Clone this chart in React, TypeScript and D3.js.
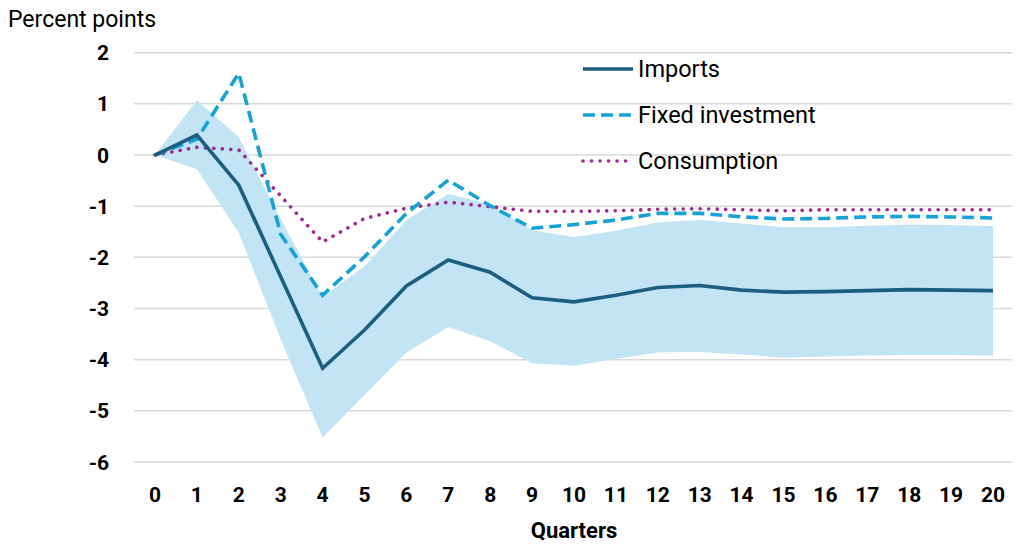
import React from 'react';
import * as d3 from 'd3';

// quarters 0..20
const quarters: number[] = d3.range(0, 21);

const imports = [0, 0.39, -0.59, -2.38, -4.17, -3.42, -2.56, -2.05, -2.29, -2.79, -2.87, -2.74, -2.59, -2.55, -2.64, -2.68, -2.67, -2.65, -2.63, -2.64, -2.65];
const bandUpper = [0, 1.07, 0.35, -1.25, -2.77, -2.18, -1.27, -0.76, -0.96, -1.47, -1.6, -1.48, -1.32, -1.27, -1.34, -1.41, -1.41, -1.38, -1.36, -1.37, -1.39];
const bandLower = [0, -0.28, -1.52, -3.6, -5.52, -4.69, -3.86, -3.36, -3.64, -4.07, -4.12, -3.98, -3.86, -3.85, -3.9, -3.96, -3.94, -3.92, -3.91, -3.91, -3.92];
const fixedInvestment = [0, 0.31, 1.6, -1.55, -2.74, -1.99, -1.14, -0.49, -0.99, -1.43, -1.36, -1.27, -1.14, -1.14, -1.21, -1.25, -1.24, -1.21, -1.2, -1.21, -1.23];
const consumption = [0, 0.15, 0.1, -0.8, -1.7, -1.24, -1.04, -0.92, -1.01, -1.1, -1.1, -1.09, -1.06, -1.05, -1.07, -1.09, -1.07, -1.07, -1.07, -1.07, -1.07];

const yTicks = [2, 1, 0, -1, -2, -3, -4, -5, -6];

const WIDTH = 1024;
const HEIGHT = 548;

const tickFont = 'Roboto, "Noto Sans", sans-serif';
const textFont = 'Roboto, "Noto Sans", sans-serif';

const C_IMPORTS = '#1b5e80';
const C_FIXED = '#17a2d8';
const C_CONS = '#9e2a94';
const C_BAND = '#c2e4f4';

const App: React.FC = () => {
    const x = d3.scaleLinear().domain([0, 20]).range([155, 993]);
    const y = d3.scaleLinear().domain([-6, 2]).range([462, 52.7]);

    const line = d3.line<number>()
        .x((d, i) => x(quarters[i]))
        .y(d => y(d));

    const area = d3.area<number>()
        .x((d, i) => x(quarters[i]))
        .y0((d, i) => y(bandLower[i]))
        .y1(d => y(d));

    const legend = [
        { label: 'Imports', color: C_IMPORTS, dash: undefined as string | undefined, cap: 'butt', y: 69 },
        { label: 'Fixed investment', color: C_FIXED, dash: '12 6', cap: 'butt', y: 115 },
        { label: 'Consumption', color: C_CONS, dash: '0.1 8.4', cap: 'round', y: 161 },
    ];

    return (
        <svg width={WIDTH} height={HEIGHT} style={{ position: 'absolute', left: 0, top: 0, background: '#fff' }}>
            {/* gridlines */}
            {yTicks.map(t => (
                <line key={t} x1={134} x2={1012} y1={y(t)} y2={y(t)} stroke="#d9d9d9" strokeWidth={1.5} />
            ))}

            {/* confidence band */}
            <path d={area(bandUpper) ?? ''} fill={C_BAND} stroke="none" />

            <path d={line(consumption) ?? ''} fill="none" stroke={C_CONS} strokeWidth={3.6}
                strokeDasharray="0.1 8.4" strokeLinecap="round" />
            <path d={line(fixedInvestment) ?? ''} fill="none" stroke={C_FIXED} strokeWidth={3.6}
                strokeDasharray="12 6" />
            <path d={line(imports) ?? ''} fill="none" stroke={C_IMPORTS} strokeWidth={3.6} strokeLinejoin="miter" />

            {/* y tick labels */}
            {yTicks.map(t => (
                <text key={t} x={109} y={y(t)} dy="0.36em" textAnchor="end"
                    fontFamily={tickFont} fontWeight="bold" fontSize={21} fill="#000">
                    {t}
                </text>
            ))}

            {/* x tick labels */}
            {quarters.map(q => (
                <text key={q} x={x(q)} y={502} textAnchor="middle"
                    fontFamily={tickFont} fontWeight="bold" fontSize={21} fill="#000">
                    {q}
                </text>
            ))}

            <text x={574} y={538} textAnchor="middle" fontFamily={tickFont} fontWeight="bold" fontSize={22} fill="#000">
                Quarters
            </text>

            <text x={8} y={27} fontFamily={textFont} fontSize={23} fill="#000">
                Percent points
            </text>

            {/* legend */}
            {legend.map(l => (
                <g key={l.label}>
                    <line x1={583} x2={633} y1={l.y} y2={l.y} stroke={l.color} strokeWidth={3.6}
                        strokeDasharray={l.dash} strokeLinecap={l.cap as any} />
                    <text x={638} y={l.y + 8} fontFamily={textFont} fontSize={23.5} fill="#000">
                        {l.label}
                    </text>
                </g>
            ))}
        </svg>
    );
};

export default App;
